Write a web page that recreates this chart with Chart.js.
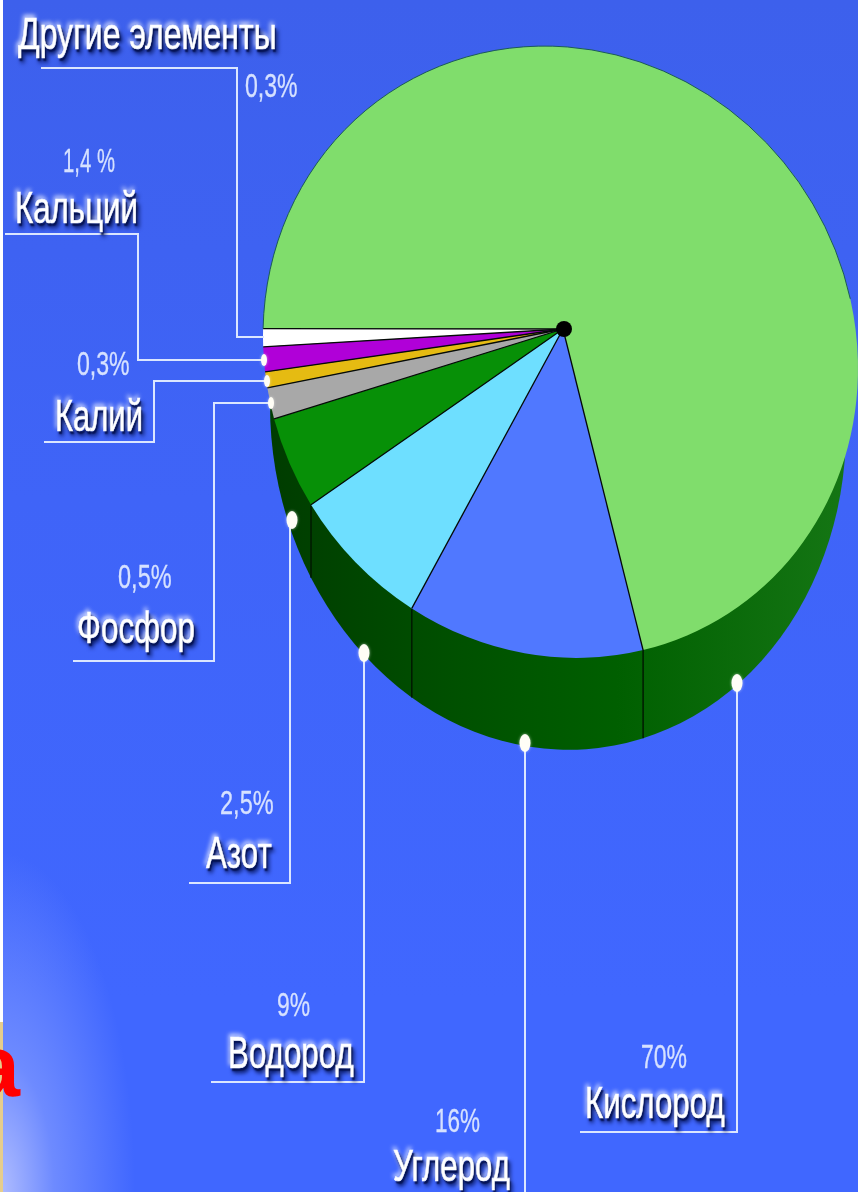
<!DOCTYPE html>
<html lang="ru">
<head>
<meta charset="utf-8">
<title>Элементы</title>
<script src="https://cdn.jsdelivr.net/npm/chart.js@4"></script>
<style>
  html, body { margin: 0; padding: 0; background: #3f66ff; }
  #lienzo {
    position: relative; width: 858px; height: 1192px; overflow: hidden;
    background:
      linear-gradient(#fff, #fff) 0 0 / 3px 1022px no-repeat,
      linear-gradient(#e6cd8c, #e6cd8c) 0 1022px / 3px 170px no-repeat,
      radial-gradient(ellipse 135px 340px at 0 1192px, #b0bdff 0%, rgba(140,162,255,.6) 40%, rgba(64,102,255,0) 100%),
      linear-gradient(#3d60ec 0, #3f64f8 500px, #4067ff 1000px);
  }
  canvas { position: absolute; left: 0; top: 0; }
  .txt { position: absolute; height: 0; line-height: 0; white-space: nowrap; transform-origin: 0 0; font-family: "Liberation Sans", Arial, sans-serif; }
  .nombre { font-size: 44px; color: #fff; -webkit-text-stroke: .6px #f4f7ff; text-shadow: 2px 3px 2px #03104f, 4px 5px 5px #03104f, -2px -3px 5px rgba(255,255,255,.85); }
  .pct { font-size: 34px; color: #d6e1ff; -webkit-text-stroke: .3px #d6e1ff; }
  .rojo { position: absolute; left: -29px; top: 1066px; height: 0; line-height: 0; font: bold 88px/0 "Liberation Sans", Arial, sans-serif; color: #f00; }
</style>
</head>
<body>
<div id="lienzo">
  <canvas id="grafico" width="880" height="1192"></canvas>
  <div class="rojo">а</div>
</div>
<script>
// Datos: nombres, porcentajes escritos y parte de cada sector tal como se ve dibujado
const elementos = ['Кислород', 'Углерод', 'Водород', 'Азот', 'Фосфор', 'Калий', 'Кальций', 'Другие элементы'];
const porcentajes = ['70%', '16%', '9%', '2,5%', '0,5%', '0,3%', '1,4 %', '0,3%'];
const sectores = [70.16, 12.81, 7.5, 4.81, 1.64, 0.83, 1.31, 0.95];
const colores = ['#80dd6c', '#5078ff', '#6edfff', '#079007', '#a8a8a8', '#e5bb12', '#b000d8', '#ffffff'];

// Caja de cada nombre y porcentaje: [x inicial, x final, linea base]
const cajaNombre = [[585, 725, 1118], [393, 510, 1181], [228, 354, 1068], [206, 272, 868], [77, 195, 643], [55, 143, 431], [15, 138, 223], [18, 277, 49]];
const cajaPct = [[641, 687, 1068], [435, 480, 1132], [277, 310, 1016], [220, 274, 814], [118, 172, 588], [77, 130, 375], [63, 115, 172], [245, 298, 97]];

// Lineas guia
const guias = [
  [[737, 683], [737, 1132], [580, 1132]],
  [[525, 743], [525, 1192]],
  [[364, 653], [364, 1082], [211, 1082]],
  [[292, 520], [290, 520], [290, 883], [189, 883]],
  [[271, 403], [214, 403], [214, 661], [73, 661]],
  [[267, 381], [154, 381], [154, 442], [44, 442]],
  [[264, 360], [138, 360], [138, 234], [5, 234]],
  [[264, 337], [237, 337], [237, 68], [41, 68]]
];

const vertice = { x: 563, y: 329 };
const TORCION = 0.055, ESTIRA = 1.0269;
const pared = { x: 558, y: 417, rx: 288, ry: 332.6, k: 0.0416 };

// Aplica la inclinacion de la elipse sobre el contexto
function inclinar(ctx, cx, cy, k, sy) {
  ctx.translate(cx, cy);
  ctx.transform(1, k, 0, sy, 0, 0);
  ctx.translate(-cx, -cy);
}

function paredY(x) {
  const d = x - pared.x;
  return pared.y + pared.k * d + pared.ry * Math.sqrt(Math.max(0, 1 - (d / pared.rx) ** 2));
}

// Punto del borde para un angulo del sector
function bordeEn(a, angulo) {
  const r = a.outerRadius;
  return {
    x: a.x + r * Math.cos(angulo),
    y: a.y + TORCION * r * Math.cos(angulo) + ESTIRA * r * Math.sin(angulo)
  };
}

const pastel3d = {
  id: 'pastel3d',
  beforeDatasetDraw(chart) {
    const ctx = chart.ctx;
    const arcos = chart.getDatasetMeta(0).data;

    // Pared lateral
    ctx.save();
    inclinar(ctx, pared.x, pared.y, pared.k, 1);
    const grad = ctx.createLinearGradient(270, 0, 846, 0);
    grad.addColorStop(0, '#003c00');
    grad.addColorStop(0.3, '#004f00');
    grad.addColorStop(0.6, '#005f00');
    grad.addColorStop(1, '#157614');
    ctx.fillStyle = grad;
    ctx.beginPath();
    ctx.ellipse(pared.x, pared.y, pared.rx, pared.ry, 0, 0, Math.PI * 2);
    ctx.fill();
    ctx.restore();

    // Aristas verticales de la pared
    ctx.strokeStyle = '#001a00';
    ctx.lineWidth = 1.5;
    arcos.forEach(a => {
      if (Math.sin(a.endAngle) <= 0) return;
      const p = bordeEn(a, a.endAngle);
      if (p.x < 280 || p.x > 800) return;
      ctx.beginPath();
      ctx.moveTo(p.x, p.y);
      ctx.lineTo(p.x, paredY(p.x));
      ctx.stroke();
    });

    // Sectores: el vertice no coincide con el centro de la elipse
    arcos.forEach(a => {
      ctx.beginPath();
      ctx.moveTo(vertice.x, vertice.y);
      ctx.save();
      inclinar(ctx, a.x, a.y, TORCION, ESTIRA);
      ctx.arc(a.x, a.y, a.outerRadius, a.startAngle, a.endAngle);
      ctx.restore();
      ctx.closePath();
      ctx.fillStyle = a.options.backgroundColor;
      ctx.fill();
    });

    // Radios negros
    ctx.strokeStyle = '#050a08';
    ctx.lineWidth = 1.3;
    arcos.forEach(a => {
      const p = bordeEn(a, a.endAngle);
      ctx.beginPath();
      ctx.moveTo(vertice.x, vertice.y);
      ctx.lineTo(p.x, p.y);
      ctx.stroke();
    });

    // Contorno fino solo en la parte superior del borde
    const a0 = arcos[0];
    ctx.save();
    ctx.beginPath();
    inclinar(ctx, a0.x, a0.y, TORCION, ESTIRA);
    ctx.arc(a0.x, a0.y, a0.outerRadius, a0.startAngle, a0.startAngle + Math.PI * 0.92);
    ctx.restore();
    ctx.strokeStyle = '#1c5a58';
    ctx.lineWidth = 1;
    ctx.stroke();
    return false;
  },
  afterDraw(chart) {
    const ctx = chart.ctx;
    ctx.save();
    // Buje central
    ctx.fillStyle = '#000';
    ctx.beginPath();
    ctx.arc(vertice.x + 1, vertice.y, 8, 0, Math.PI * 2);
    ctx.fill();
    // Guias y puntos
    ctx.strokeStyle = '#dbe6ff';
    ctx.lineWidth = 2;
    guias.forEach((g, i) => {
      ctx.beginPath();
      g.forEach((p, j) => (j ? ctx.lineTo(p[0], p[1]) : ctx.moveTo(p[0], p[1])));
      ctx.stroke();
      if (i === 7) return;
      const grande = i < 4;
      ctx.fillStyle = '#fffef6';
      ctx.shadowColor = 'rgba(255,255,255,.6)';
      ctx.shadowBlur = 3;
      ctx.beginPath();
      ctx.ellipse(g[0][0], g[0][1], grande ? 5.5 : 3, grande ? 9 : 6, 0, 0, Math.PI * 2);
      ctx.fill();
      ctx.shadowBlur = 0;
    });
    ctx.restore();
  }
};

new Chart(document.getElementById('grafico'), {
  type: 'pie',
  data: {
    labels: elementos,
    datasets: [{ data: sectores, backgroundColor: colores, borderWidth: 0 }]
  },
  options: {
    responsive: false,
    animation: false,
    devicePixelRatio: 1,
    rotation: 271.33,
    layout: { padding: { left: 263, right: 22, top: 54.5, bottom: 542.5 } },
    plugins: { legend: { display: false }, tooltip: { enabled: false } }
  },
  plugins: [pastel3d]
});

// Textos reales, comprimidos a lo ancho como en la imagen
function ponerTexto(texto, clase, caja, tam) {
  const d = document.createElement('div');
  d.className = 'txt ' + clase;
  d.textContent = texto;
  d.style.left = caja[0] + 'px';
  d.style.top = (caja[2] - 0.3465 * tam) + 'px';
  document.getElementById('lienzo').appendChild(d);
  d.style.transform = `scaleX(${(caja[1] - caja[0]) / d.offsetWidth})`;
}
elementos.forEach((e, i) => ponerTexto(e, 'nombre', cajaNombre[i], 44));
porcentajes.forEach((p, i) => ponerTexto(p, 'pct', cajaPct[i], 34));
</script>
</body>
</html>
